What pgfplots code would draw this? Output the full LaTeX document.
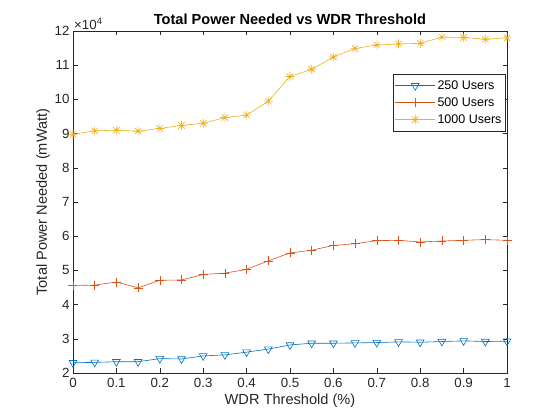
\documentclass[border=0pt]{standalone}
\usepackage{fontspec}
\setmainfont{Liberation Sans}
\usepackage{pgfplots}
\pgfplotsset{compat=1.18}
\usetikzlibrary{calc}
\definecolor{mb}{rgb}{0,0.447,0.741}
\definecolor{mo}{rgb}{0.85,0.325,0.098}
\definecolor{my}{rgb}{0.929,0.694,0.125}
\definecolor{mg}{rgb}{0.15,0.15,0.15}
\pgfdeclareplotmark{mstar}{%
  \pgfpathmoveto{\pgfqpoint{-\pgfplotmarksize}{0pt}}\pgfpathlineto{\pgfqpoint{\pgfplotmarksize}{0pt}}%
  \pgfpathmoveto{\pgfqpoint{0pt}{-\pgfplotmarksize}}\pgfpathlineto{\pgfqpoint{0pt}{\pgfplotmarksize}}%
  \pgfpathmoveto{\pgfqpoint{-0.707\pgfplotmarksize}{-0.707\pgfplotmarksize}}\pgfpathlineto{\pgfqpoint{0.707\pgfplotmarksize}{0.707\pgfplotmarksize}}%
  \pgfpathmoveto{\pgfqpoint{-0.707\pgfplotmarksize}{0.707\pgfplotmarksize}}\pgfpathlineto{\pgfqpoint{0.707\pgfplotmarksize}{-0.707\pgfplotmarksize}}%
  \pgfusepathqstroke}
\begin{document}
\begin{tikzpicture}
\begin{axis}[
  name=ax,
  scale only axis,
  width=434pt, height=342pt,
  xmin=0, xmax=1, ymin=20000, ymax=120000,
  xtick={0,0.1,0.2,0.3,0.4,0.5,0.6,0.7,0.8,0.9,1},
  xticklabels={0,0.1,0.2,0.3,0.4,0.5,0.6,0.7,0.8,0.9,1},
  ytick={20000,30000,40000,50000,60000,70000,80000,90000,100000,110000,120000},
  yticklabels={2,3,4,5,6,7,8,9,10,11,12},
  scaled y ticks=false,
  tick align=inside,
  major tick length=4.5pt,
  axis line style={mg, line width=0.5pt},
  tick style={mg, line width=0.5pt},
  ticklabel style={font=\fontsize{13.3}{15}\selectfont, text=mg},
  xticklabel style={yshift=-2pt},
  xlabel={WDR Threshold (\%)},
  ylabel={Total Power Needed (mWatt)},
  label style={font=\fontsize{14.6}{17}\selectfont, text=mg},
  xlabel style={yshift=1pt},
  ylabel style={yshift=-2pt},
  title={\textbf{Total Power Needed vs WDR Threshold}},
  title style={font=\fontsize{14.6}{17}\selectfont, yshift=-3pt},
  legend style={at={(rel axis cs:0.997,0.873)}, anchor=north east, font=\fontsize{12.5}{14}\selectfont, draw=mg, line width=0.5pt, inner xsep=2pt, inner ysep=4pt, row sep=2.7pt,
    /tikz/every even column/.append style={column sep=2pt}},
  legend image code/.code={\draw[mark repeat=2,mark phase=2,#1] plot coordinates {(0pt,0pt) (20pt,0pt) (40pt,0pt)};},
  legend cell align=left,
  every axis plot/.append style={line width=0.6pt},
  clip=false,
]
\addplot[mb, mark=triangle, mark size=4.5pt, mark options={rotate=180, solid}] coordinates {
(0,23000) (0.05,23100) (0.1,23300) (0.15,23300) (0.2,24200) (0.25,24100) (0.3,25000) (0.35,25300) (0.4,26100) (0.45,27000) (0.5,28200) (0.55,28700) (0.6,28700) (0.65,28800) (0.7,28900) (0.75,29100) (0.8,29000) (0.85,29200) (0.9,29400) (0.95,29200) (1,29300)};
\addlegendentry{250 Users}
\addplot[mo, mark=+, mark size=4.5pt] coordinates {
(0,45600) (0.05,45700) (0.1,46600) (0.15,44900) (0.2,47100) (0.25,47200) (0.3,48800) (0.35,49200) (0.4,50300) (0.45,52800) (0.5,55100) (0.55,55900) (0.6,57300) (0.65,57800) (0.7,58700) (0.75,58800) (0.8,58300) (0.85,58600) (0.9,58800) (0.95,59000) (1,58800)};
\addlegendentry{500 Users}
\addplot[my, mark=mstar, mark size=4.5pt] coordinates {
(0,89800) (0.05,90800) (0.1,91000) (0.15,90700) (0.2,91500) (0.25,92400) (0.3,93000) (0.35,94700) (0.4,95400) (0.45,99500) (0.5,106700) (0.55,108800) (0.6,112400) (0.65,114900) (0.7,115900) (0.75,116200) (0.8,116400) (0.85,118200) (0.9,118100) (0.95,117600) (1,118000)};
\addlegendentry{1000 Users}
\node[anchor=south west, inner sep=1pt, font=\fontsize{13.3}{15}\selectfont, text=mg] at (rel axis cs:0,1) {×10\textsuperscript{4}};
\end{axis}
\pgfresetboundingbox
\path[use as bounding box] ($(ax.south west)+(-73pt,-47pt)$) rectangle ($(ax.north east)+(53pt,31pt)$);
\end{tikzpicture}
\end{document}
